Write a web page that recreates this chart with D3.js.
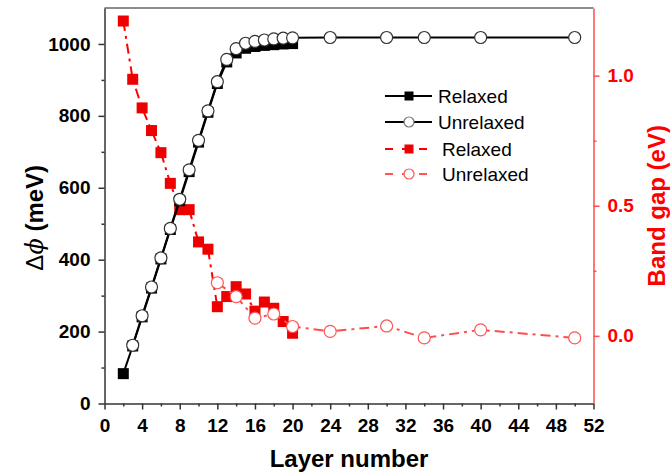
<!DOCTYPE html>
<html>
<head>
<meta charset="utf-8">
<script src="https://cdn.jsdelivr.net/npm/d3@7"></script>
<style>
  body { margin: 0; background: #fff; }
  svg { display: block; font-family: "Liberation Sans", Arial, sans-serif; }
</style>
</head>
<body>
<div id="chart"></div>
<script>
// layer numbers
const relaxedLayers = [2, 3, 4, 5, 6, 7, 8, 9, 10, 11, 12, 13, 14, 15, 16, 17, 18, 19, 20];
const unrelaxedLayers = [3, 4, 5, 6, 7, 8, 9, 10, 11, 12, 13, 14, 15, 16, 17, 18, 19, 20, 24, 30, 34, 40, 50];
const gapUnrelaxedLayers = [12, 14, 16, 18, 20, 24, 30, 34, 40, 50];

// delta phi (meV)
const dphiRelaxed = [83, 160, 241, 321, 402, 484, 564, 645, 727, 810, 890, 950, 975, 988, 993, 996, 998, 1000, 1001];
const dphiUnrelaxed = [162, 244, 324, 405, 487, 568, 650, 732, 814, 895, 957, 987, 1002, 1007, 1011, 1014, 1016, 1017, 1018, 1018, 1018, 1018, 1018];

// band gap (eV)
const gapRelaxed = [1.21, 0.986, 0.876, 0.789, 0.704, 0.586, 0.485, 0.485, 0.361, 0.333, 0.112, 0.151, 0.189, 0.161, 0.095, 0.13, 0.106, 0.055, 0.01];
const gapUnrelaxed = [0.204, 0.151, 0.068, 0.084, 0.036, 0.017, 0.038, -0.008, 0.023, -0.008];

const xTicks = [0, 4, 8, 12, 16, 20, 24, 28, 32, 36, 40, 44, 48, 52];
const xMinor = [2, 6, 10, 14, 18, 22, 26, 30, 34, 38, 42, 46, 50];
const leftTicks = [0, 200, 400, 600, 800, 1000];
const leftMinor = [100, 300, 500, 700, 900];
const rightTicks = [0, 0.5, 1.0];
const rightMinor = [0.25, 0.75];

const W = 672, H = 474;
const red = "#ff0000";
const redAxis = "#ff4d4d";

const svg = d3.select("#chart").append("svg")
    .attr("width", W).attr("height", H);

const x = d3.scaleLinear().domain([0, 52]).range([104.5, 593.5]);
const yL = d3.scaleLinear().domain([0, 1100]).range([403.5, 8]);
const yR = d3.scaleLinear().domain([-0.26, 1.26]).range([403.5, 8]);

// top frame line
svg.append("line")
    .attr("x1", x(0)).attr("x2", x(52))
    .attr("y1", yL(1100)).attr("y2", yL(1100))
    .attr("stroke", "#666").attr("stroke-width", 1.5);

function styleAxis(g, color, size) {
    g.selectAll("path, line").attr("stroke", color).attr("stroke-width", 1.5);
    g.selectAll("text").attr("fill", color === redAxis ? red : "#000")
        .attr("font-size", size).attr("font-weight", "bold")
        .attr("font-family", "'Liberation Sans', Arial, sans-serif");
}

// bottom axis
const gx = svg.append("g").attr("transform", `translate(0,${yL(0)})`)
    .call(d3.axisBottom(x).tickValues(xTicks).tickSize(6).tickSizeOuter(0).tickPadding(9));
styleAxis(gx, "#333", 19);
svg.append("g").attr("transform", `translate(0,${yL(0)})`)
    .call(d3.axisBottom(x).tickValues(xMinor).tickSize(3).tickFormat(""))
    .call(g => g.select(".domain").remove())
    .call(g => styleAxis(g, "#333", 19));

// left axis
const gl = svg.append("g").attr("transform", `translate(${x(0)},0)`)
    .call(d3.axisLeft(yL).tickValues(leftTicks).tickSize(6).tickSizeOuter(0).tickPadding(8)
        .tickFormat(d3.format("d")));
styleAxis(gl, "#333", 19);
svg.append("g").attr("transform", `translate(${x(0)},0)`)
    .call(d3.axisLeft(yL).tickValues(leftMinor).tickSize(3).tickFormat(""))
    .call(g => g.select(".domain").remove())
    .call(g => styleAxis(g, "#333", 19));

// right axis
const gr = svg.append("g").attr("transform", `translate(${x(52)},0)`)
    .call(d3.axisRight(yR).tickValues(rightTicks).tickSize(6).tickSizeOuter(0).tickPadding(8)
        .tickFormat(d3.format(".1f")));
styleAxis(gr, redAxis, 19);
svg.append("g").attr("transform", `translate(${x(52)},0)`)
    .call(d3.axisRight(yR).tickValues(rightMinor).tickSize(3).tickFormat(""))
    .call(g => g.select(".domain").remove())
    .call(g => styleAxis(g, redAxis, 19));

// axis titles
svg.append("text")
    .attr("x", (x(0) + x(52)) / 2).attr("y", 467)
    .attr("text-anchor", "middle").attr("font-size", 24).attr("font-weight", "bold")
    .text("Layer number");

const lt = svg.append("text")
    .attr("transform", `translate(43,${(yL(0) + yL(1100)) / 2 + 12}) rotate(-90)`)
    .attr("text-anchor", "middle").attr("font-size", 24);
lt.append("tspan").text("\u0394");
lt.append("tspan").attr("font-style", "italic").attr("font-family", "'DejaVu Serif', serif").text("\u03d5");
lt.append("tspan").attr("font-weight", "bold").text(" (meV)");

svg.append("text")
    .attr("transform", `translate(665,${(yR(-0.26) + yR(1.26)) / 2}) rotate(-90)`)
    .attr("text-anchor", "middle").attr("font-size", 24).attr("font-weight", "bold")
    .attr("fill", red)
    .text("Band gap (eV)");

// data helpers
function pts(xs, ys) { return xs.map((v, i) => [v, ys[i]]); }
const sq = 11, rc = 6;

function drawLine(data, yScale, color, dash) {
    svg.append("path")
        .datum(data)
        .attr("fill", "none")
        .attr("stroke", color)
        .attr("stroke-width", 2)
        .attr("stroke-dasharray", dash)
        .attr("d", d3.line().x(d => x(d[0])).y(d => yScale(d[1])));
}
function drawSquares(data, yScale, color) {
    svg.append("g").selectAll("rect").data(data).join("rect")
        .attr("x", d => x(d[0]) - sq / 2)
        .attr("y", d => yScale(d[1]) - sq / 2)
        .attr("width", sq).attr("height", sq)
        .attr("fill", color);
}
function drawCircles(data, yScale, color) {
    svg.append("g").selectAll("circle").data(data).join("circle")
        .attr("cx", d => x(d[0]))
        .attr("cy", d => yScale(d[1]))
        .attr("r", rc)
        .attr("fill", "#fff")
        .attr("stroke", color).attr("stroke-width", 1.2);
}

const redRel = pts(relaxedLayers, gapRelaxed);
const redUnrel = pts(gapUnrelaxedLayers, gapUnrelaxed);
const blackRel = pts(relaxedLayers, dphiRelaxed);
const blackUnrel = pts(unrelaxedLayers, dphiUnrelaxed);

drawLine(redRel, yR, red, "10,5,3,5");
drawSquares(redRel, yR, "#ee0000");
drawLine(redUnrel, yR, "#ff4d4d", "10,5,3,5");
drawCircles(redUnrel, yR, "#ff5555");

drawLine(blackRel, yL, "#000", null);
drawSquares(blackRel, yL, "#000");
drawLine(blackUnrel, yL, "#000", null);
drawCircles(blackUnrel, yL, "#333");

// legend
const legendRows = [
    { label: "Relaxed", color: "#000", marker: "square", dash: null, y: 96, tx: 438 },
    { label: "Unrelaxed", color: "#000", marker: "circle", dash: null, y: 122, tx: 438 },
    { label: "Relaxed", color: red, marker: "square", dash: "8,9", y: 149, tx: 442 },
    { label: "Unrelaxed", color: "#ff5555", marker: "circle", dash: "8,9", y: 174, tx: 442 }
];
const lg = svg.append("g");
legendRows.forEach(r => {
    lg.append("line")
        .attr("x1", 385).attr("x2", 432).attr("y1", r.y).attr("y2", r.y)
        .attr("stroke", r.color).attr("stroke-width", 2)
        .attr("stroke-dasharray", r.dash);
    if (r.marker === "square") {
        lg.append("rect").attr("x", 409 - 4.5).attr("y", r.y - 4.5)
            .attr("width", 9).attr("height", 9).attr("fill", r.color === red ? "#ee0000" : "#000");
    } else {
        lg.append("circle").attr("cx", 409).attr("cy", r.y).attr("r", 5)
            .attr("fill", "#fff").attr("stroke", r.color === "#000" ? "#777" : r.color).attr("stroke-width", 1.2);
    }
    lg.append("text").attr("x", r.tx).attr("y", r.y + 7)
        .attr("font-size", 19).attr("fill", "#000").text(r.label);
});
</script>
</body>
</html>
